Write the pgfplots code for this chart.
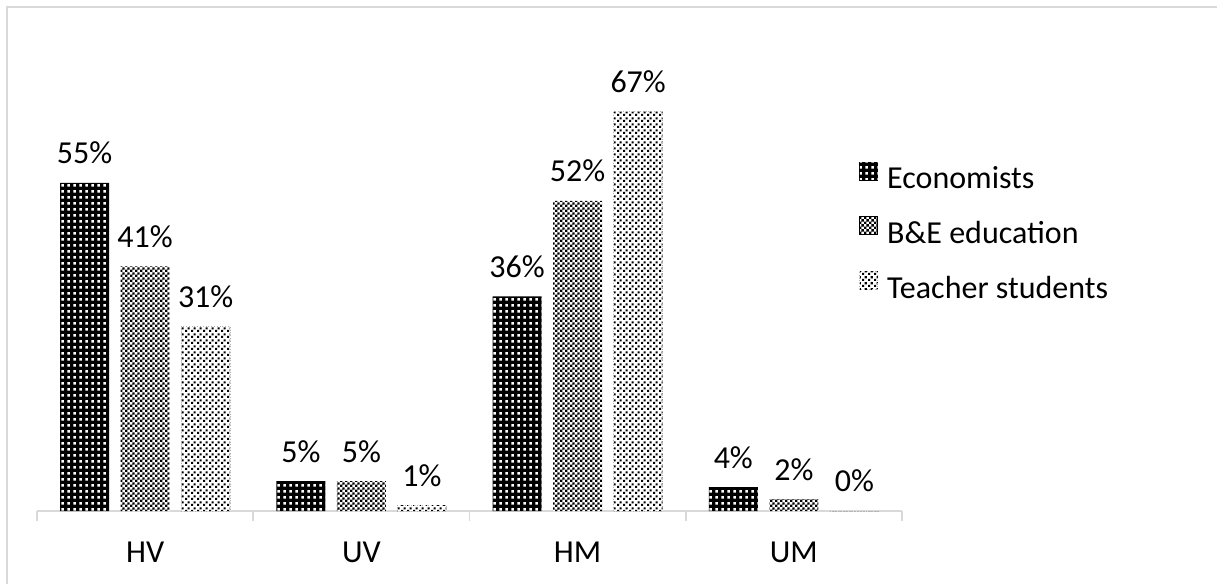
\documentclass[border=0pt]{standalone}
\usepackage{fontspec}
\setmainfont{Carlito}
\usepackage{pgfplots}
\pgfplotsset{compat=1.18}
\usetikzlibrary{patterns}
\definecolor{framegray}{HTML}{D9D9D9}
\pgfdeclarepatternformonly{econ}{\pgfqpoint{0pt}{0pt}}{\pgfqpoint{3pt}{3pt}}{\pgfqpoint{3pt}{3pt}}{%
  \pgfpathrectangle{\pgfqpoint{0.8pt}{0.8pt}}{\pgfqpoint{1.4pt}{1.4pt}}\pgfusepath{fill}}
\pgfdeclarepatternformonly{checker}{\pgfqpoint{0pt}{0pt}}{\pgfqpoint{2.4pt}{2.4pt}}{\pgfqpoint{2.4pt}{2.4pt}}{%
  \pgfpathrectangle{\pgfqpoint{0pt}{0pt}}{\pgfqpoint{1.2pt}{1.2pt}}%
  \pgfpathrectangle{\pgfqpoint{1.2pt}{1.2pt}}{\pgfqpoint{1.2pt}{1.2pt}}\pgfusepath{fill}}
\pgfdeclarepatternformonly{tdots}{\pgfqpoint{0pt}{0pt}}{\pgfqpoint{2.8pt}{2.8pt}}{\pgfqpoint{2.8pt}{2.8pt}}{%
  \pgfpathrectangle{\pgfqpoint{0pt}{0pt}}{\pgfqpoint{1.1pt}{1.1pt}}%
  \pgfpathrectangle{\pgfqpoint{1.4pt}{1.4pt}}{\pgfqpoint{1.1pt}{1.1pt}}\pgfusepath{fill}}
\begin{document}
\fontsize{16}{19}\selectfont
\begin{tikzpicture}
\useasboundingbox (-18.5pt,-36.5pt) rectangle (590pt,255.5pt);
\draw[color=framegray, line width=0.9pt] (-15pt,-40pt) -- (-15pt,252pt) -- (600pt,252pt);
\begin{axis}[
  at={(0,0)}, anchor=south west, scale only axis,
  width=432.5pt, height=208.75pt,
  ymin=0, ymax=70, xmin=-0.5, xmax=3.5,
  ybar, bar width=0.2266,
  axis y line=none, axis x line*=bottom,
  x axis line style={color=framegray, line width=0.9pt, -},
  xtick={0,1,2,3}, xticklabels={HV,UV,HM,UM},
  major tick length=0pt,
  extra x ticks={-0.5,0.5,1.5,2.5,3.5}, extra x tick labels={},
  extra x tick style={major tick length=5pt, tick align=outside,
     tick style={color=framegray, line width=0.9pt}},
  xticklabel style={anchor=center, yshift=-20.5pt, text=black},
  clip=false,
  nodes near coords={\pgfmathprintnumber[assume math mode=true]{\pgfplotspointmeta}\%},
  every node near coord/.append style={anchor=base, yshift=9.5pt, text=black},
  legend style={at={(0.9503,0.838)}, anchor=north west, draw=none, fill=none,
     inner sep=0pt, row sep=10.5pt, column sep=4.5pt,
     nodes={inner sep=0pt, text height=11pt, text depth=3.4pt}},
  legend cell align=left,
  legend image code/.code={\draw[#1] (0pt,0.5pt) rectangle (9pt,9.5pt);},
]
\addplot[draw=none, fill=black, postaction={pattern=econ, pattern color=white}, bar shift=-0.28]
  coordinates {(0,55) (1,5) (2,36) (3,4)};
\addplot[draw=none, fill=white, postaction={pattern=checker, pattern color=black}, bar shift=0]
  coordinates {(0,41) (1,5) (2,52) (3,2)};
\addplot[draw=gray!60, densely dotted, line width=0.4pt, fill=white, postaction={pattern=tdots, pattern color=black}, bar shift=0.28]
  coordinates {(0,31) (1,1) (2,67) (3,0)};
\legend{Economists, B\&E education, Teacher students}
\end{axis}
\end{tikzpicture}
\end{document}
